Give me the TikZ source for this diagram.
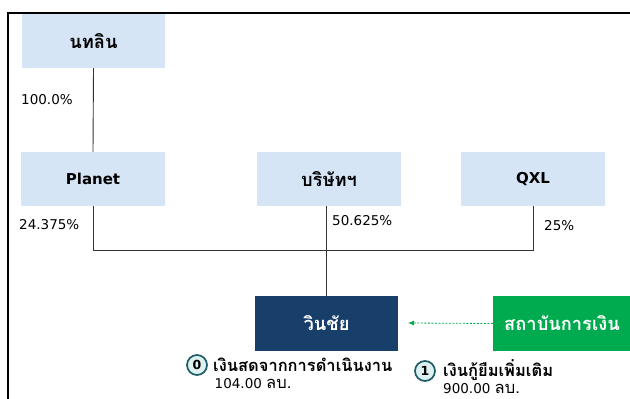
\documentclass[tikz,border=0pt]{standalone}
\usepackage{fontspec}
\setmainfont{DejaVu Sans}
\newfontfamily\thaifont[Script=Thai, Scale=1.22]{Loma}
\usetikzlibrary{arrows.meta}
\definecolor{boxblue}{HTML}{D6E5F6}
\definecolor{navy}{HTML}{173F6A}
\definecolor{grn}{HTML}{00AA4E}
\definecolor{tealline}{HTML}{1E5A68}
\definecolor{tealfill}{HTML}{DDF1F1}
\tikzset{
  entity/.style={fill=boxblue, minimum width=144pt, minimum height=54pt, inner sep=0pt, font=\bfseries\fontsize{15}{17}\selectfont},
  pct/.style={anchor=west, inner sep=0pt, font=\fontsize{13.5}{15}\selectfont},
  link/.style={draw=black!80, line width=0.9pt},
  badge/.style={circle, draw=tealline, fill=tealfill, line width=1.7pt, minimum size=20pt, inner sep=0pt, font=\bfseries\fontsize{12.5}{12}\selectfont},
  note/.style={anchor=base west, inner sep=0pt, align=left, font=\fontsize{13.5}{16.5}\selectfont},
}
\begin{document}
\begin{tikzpicture}[x=1pt,y=-1pt]
\useasboundingbox (0,0) rectangle (630,399);
\draw[line width=2pt] (630,13) -- (8,13) -- (8,399);
\node[entity, minimum width=143pt] (nt) at (93.5,41) {\thaifont นทลิน};
\node[entity] (planet) at (93,179) {Planet};
\node[entity] (bor) at (329,179) {\thaifont บริษัทฯ};
\node[entity] (qxl) at (533,179) {QXL};
\node[fill=navy, text=white, minimum width=143pt, minimum height=55pt, inner sep=0pt, font=\bfseries\fontsize{15}{18}\selectfont] (win) at (326.5,323.5) {\thaifont วินชัย};
\node[fill=grn, text=white, minimum width=138pt, minimum height=55pt, inner sep=0pt, font=\bfseries\fontsize{15}{18}\selectfont] (fin) at (562,323.5) {\thaifont สถาบันการเงิน};
\coordinate (tip) at (408,323);
\draw[link] (nt.south) -- (planet.north);
\draw[link] (planet.south) -- ++(0,44) -| (qxl.south);
\draw[link] (bor.south -| win.north) -- (win.north);
\draw[grn, line width=0.8pt, dash pattern=on 2pt off 1.5pt, -{Latex[length=6pt,width=5pt]}] (fin.west) -- (tip);
\node[pct] (p1) at (21,100) {100.0\%};
\node[pct] (p2) at (19,225) {24.375\%};
\node[pct] (p3) at (332,221) {50.625\%};
\node[pct] (p4) at (544,226) {25\%};
\node[badge] (b0) at (197,365) {0};
\node[note] (t0) at (213,388) {{\bfseries\thaifont เงินสดจากการดำเนินงาน}\\\hspace{1.5pt}104.00 {\thaifont ลบ.}};
\node[badge] (b1) at (425,371) {1};
\node[note] (t1) at (443,393) {{\bfseries\thaifont เงินกู้ยืมเพิ่มเติม}\\900.00 {\thaifont ลบ.}};
\end{tikzpicture}
\end{document}
